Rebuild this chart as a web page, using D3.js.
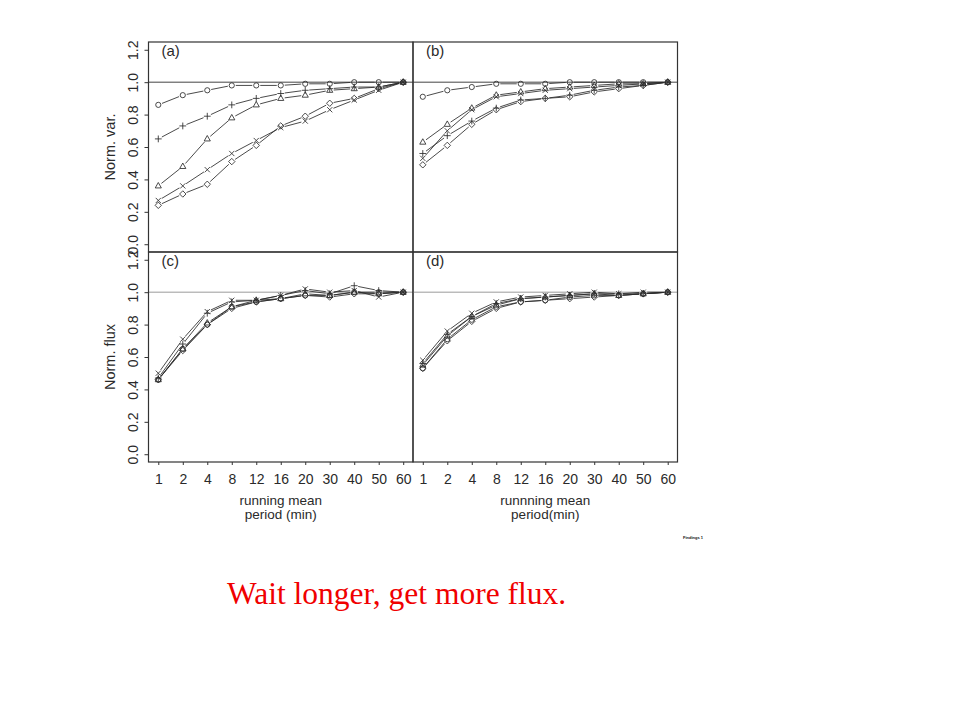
<!DOCTYPE html>
<html>
<head>
<meta charset="utf-8">
<script src="https://cdn.jsdelivr.net/npm/d3@7"></script>
<style>
  html, body { margin: 0; padding: 0; background: #fff; }
  svg { display: block; }
</style>
</head>
<body>
<svg id="chart" width="960" height="720"></svg>
<script>
// ---------- DATA ----------
const periods = ["1","2","4","8","12","16","20","30","40","50","60"];
const symbolTypes = ["circle","triangle","plus","cross","diamond"];
const yTicks = [0.0, 0.2, 0.4, 0.6, 0.8, 1.0, 1.2];
const panelLabels = ["(a)","(b)","(c)","(d)"];
const yTitles = ["Norm. var.", "Norm. flux"];
const xTitlesLeft = ["running mean", "period (min)"];
const xTitlesRight = ["runnning mean", "period(min)"];

// panel (a): normalized variance
const aCircle   = [0.86,0.92,0.95,0.98,0.98,0.98,0.99,0.99,1.00,1.00,1.00];
const aTriangle = [0.36,0.48,0.65,0.78,0.86,0.90,0.92,0.95,0.96,0.97,1.00];
const aPlus     = [0.65,0.73,0.79,0.86,0.90,0.93,0.95,0.96,0.97,0.97,1.00];
const aCross    = [0.27,0.36,0.46,0.56,0.64,0.72,0.76,0.83,0.89,0.95,1.00];
const aDiamond  = [0.24,0.31,0.37,0.51,0.61,0.73,0.79,0.87,0.90,0.96,1.00];

// panel (b): normalized variance
const bCircle   = [0.91,0.95,0.97,0.99,0.99,0.99,1.00,1.00,1.00,1.00,1.00];
const bTriangle = [0.63,0.74,0.84,0.92,0.94,0.96,0.97,0.98,0.99,0.99,1.00];
const bPlus     = [0.56,0.67,0.76,0.84,0.89,0.90,0.92,0.95,0.97,0.98,1.00];
const bCross    = [0.53,0.70,0.83,0.91,0.93,0.95,0.96,0.97,0.98,0.99,1.00];
const bDiamond  = [0.49,0.61,0.74,0.83,0.88,0.90,0.91,0.94,0.96,0.98,1.00];

// panel (c): normalized flux
const cCircle   = [0.46,0.65,0.80,0.91,0.94,0.96,0.98,0.98,1.00,1.00,1.00];
const cTriangle = [0.46,0.65,0.81,0.91,0.95,0.96,0.99,0.98,1.00,0.99,1.00];
const cPlus     = [0.47,0.68,0.87,0.94,0.95,0.98,1.01,0.99,1.04,1.01,1.00];
const cCross    = [0.50,0.71,0.88,0.95,0.95,0.98,1.02,1.00,1.01,0.97,1.00];
const cDiamond  = [0.46,0.64,0.80,0.90,0.94,0.96,0.98,0.97,0.99,0.99,1.00];

// panel (d): normalized flux
const dCircle   = [0.53,0.71,0.83,0.91,0.94,0.95,0.97,0.98,0.98,0.99,1.00];
const dTriangle = [0.55,0.73,0.85,0.92,0.96,0.97,0.98,0.99,0.98,0.99,1.00];
const dPlus     = [0.56,0.74,0.85,0.93,0.96,0.97,0.98,0.99,0.99,0.99,1.00];
const dCross    = [0.58,0.76,0.87,0.94,0.97,0.98,0.99,1.00,0.99,1.00,1.00];
const dDiamond  = [0.53,0.70,0.82,0.90,0.94,0.95,0.96,0.97,0.98,0.99,1.00];

const caption = "Wait longer, get more flux.";
const footnote = "Findings 1";

// ---------- LAYOUT ----------
const svg = d3.select("#chart");
const colX = [148.5, 413, 677.5];
const rowY = [42, 252, 462];
const font = "'Liberation Sans', Arial, Helvetica, sans-serif";
const ink = "#2a2a2a";

const panels = [
  {col:0,row:0,label:panelLabels[0],series:[aCircle,aTriangle,aPlus,aCross,aDiamond],refColor:"#444"},
  {col:1,row:0,label:panelLabels[1],series:[bCircle,bTriangle,bPlus,bCross,bDiamond],refColor:"#444"},
  {col:0,row:1,label:panelLabels[2],series:[cCircle,cTriangle,cPlus,cCross,cDiamond],refColor:"#9a9a9a"},
  {col:1,row:1,label:panelLabels[3],series:[dCircle,dTriangle,dPlus,dCross,dDiamond],refColor:"#9a9a9a"}
];

function symPath(type, cx, cy) {
  const p = d3.path();
  if (type === "circle") {
    const r = 2.6;
    p.moveTo(cx + r, cy); p.arc(cx, cy, r, 0, 2 * Math.PI);
  } else if (type === "triangle") {
    const r = 3.4;
    p.moveTo(cx, cy - r); p.lineTo(cx + r * 0.9, cy + r * 0.6); p.lineTo(cx - r * 0.9, cy + r * 0.6); p.closePath();
  } else if (type === "plus") {
    const r = 3.4;
    p.moveTo(cx - r, cy); p.lineTo(cx + r, cy); p.moveTo(cx, cy - r); p.lineTo(cx, cy + r);
  } else if (type === "cross") {
    const r = 2.6;
    p.moveTo(cx - r, cy - r); p.lineTo(cx + r, cy + r); p.moveTo(cx - r, cy + r); p.lineTo(cx + r, cy - r);
  } else if (type === "diamond") {
    const r = 3.2;
    p.moveTo(cx, cy - r); p.lineTo(cx + r, cy); p.lineTo(cx, cy + r); p.lineTo(cx - r, cy); p.closePath();
  }
  return p.toString();
}

panels.forEach(pn => {
  const x0 = colX[pn.col], x1 = colX[pn.col + 1];
  const y0 = rowY[pn.row], y1 = rowY[pn.row + 1];
  const x = d3.scalePoint().domain(periods).range([x0, x1]).padding(0.4);
  const y = d3.scaleLinear().domain([-0.048, 1.248]).range([y1, y0]);
  const g = svg.append("g");

  // reference line at 1.0
  g.append("line")
    .attr("x1", x0).attr("x2", x1)
    .attr("y1", y(1)).attr("y2", y(1))
    .attr("stroke", pn.refColor).attr("stroke-width", 1);

  // series
  pn.series.forEach((vals, si) => {
    const pts = vals.map((v, i) => [x(periods[i]), y(v)]);
    const gap = 4;
    const segs = [];
    for (let i = 0; i < pts.length - 1; i++) {
      const [ax, ay] = pts[i], [bx, by] = pts[i + 1];
      const dx = bx - ax, dy = by - ay, L = Math.hypot(dx, dy);
      if (L > 2 * gap + 1) {
        const ux = dx / L, uy = dy / L;
        segs.push([ax + ux * gap, ay + uy * gap, bx - ux * gap, by - uy * gap]);
      }
    }
    g.selectAll(null).data(segs).enter().append("line")
      .attr("x1", d => d[0]).attr("y1", d => d[1])
      .attr("x2", d => d[2]).attr("y2", d => d[3])
      .attr("stroke", ink).attr("stroke-width", 0.85);
    g.selectAll(null).data(pts).enter().append("path")
      .attr("d", d => symPath(symbolTypes[si], d[0], d[1]))
      .attr("fill", "none").attr("stroke", ink).attr("stroke-width", 0.85);
  });

  // frame
  g.append("rect")
    .attr("x", x0).attr("y", y0)
    .attr("width", x1 - x0).attr("height", y1 - y0)
    .attr("fill", "none").attr("stroke", "#333").attr("stroke-width", 1.2);

  // panel label
  g.append("text")
    .attr("x", x0 + 13).attr("y", y0 + 14)
    .attr("font-family", font).attr("font-size", 15).attr("fill", ink)
    .text(pn.label);

  // y axis on left column
  if (pn.col === 0) {
    const ax = g.append("g").attr("transform", `translate(${x0},0)`)
      .call(d3.axisLeft(y).tickValues(yTicks).tickFormat(d3.format(".1f")).tickSize(4).tickPadding(0));
    ax.select(".domain").remove();
    ax.selectAll(".tick line").attr("stroke", "#333");
    ax.selectAll(".tick text")
      .attr("transform", "rotate(-90)")
      .attr("x", 0).attr("y", -11)
      .attr("text-anchor", "middle")
      .attr("dy", null)
      .attr("font-family", font).attr("font-size", 14).attr("fill", ink);
    g.append("text")
      .attr("transform", `translate(${x0 - 34},${(y0 + y1) / 2}) rotate(-90)`)
      .attr("text-anchor", "middle")
      .attr("font-family", font).attr("font-size", 14.5).attr("fill", ink)
      .text(yTitles[pn.row]);
  }

  // x axis on bottom row
  if (pn.row === 1) {
    const ax = g.append("g").attr("transform", `translate(0,${y1})`)
      .call(d3.axisBottom(x).tickSize(3).tickPadding(9));
    ax.select(".domain").remove();
    ax.selectAll(".tick line").attr("stroke", "#333");
    ax.selectAll(".tick text")
      .attr("font-family", font).attr("font-size", 14).attr("fill", ink);
    const titles = pn.col === 0 ? xTitlesLeft : xTitlesRight;
    const cx = (x0 + x1) / 2;
    g.append("text").attr("x", cx).attr("y", 505)
      .attr("text-anchor", "middle").attr("font-family", font).attr("font-size", 13.5).attr("fill", ink)
      .text(titles[0]);
    g.append("text").attr("x", cx).attr("y", 518.5)
      .attr("text-anchor", "middle").attr("font-family", font).attr("font-size", 13.5).attr("fill", ink)
      .text(titles[1]);
  }
});

// tiny footnote
svg.append("text")
  .attr("x", 683).attr("y", 539)
  .attr("font-family", font).attr("font-size", 4).attr("font-weight", "bold").attr("fill", "#111")
  .text(footnote);

// caption
svg.append("text")
  .attr("x", 227).attr("y", 604)
  .attr("font-family", "'Liberation Serif', 'Times New Roman', serif")
  .attr("font-size", 31.5).attr("fill", "#f00000")
  .text(caption);
</script>
</body>
</html>
